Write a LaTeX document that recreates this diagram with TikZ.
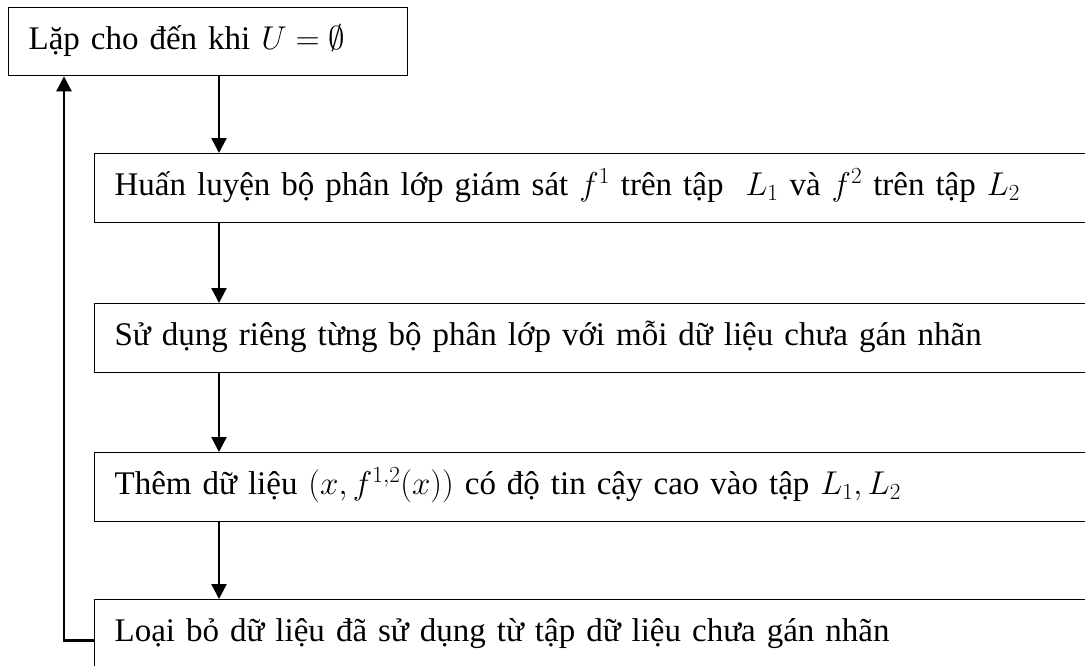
\RequirePackage{fix-cm}
\documentclass[tikz,border=0pt]{standalone}
\usepackage{fontspec}
\setmainfont{Liberation Serif}
\usetikzlibrary{arrows.meta}
\begin{document}
\begin{tikzpicture}[x=1pt,y=-1pt,
  box/.style={draw, line width=1.3pt, minimum height=69pt, inner xsep=20pt, inner ysep=0pt,
    align=left, anchor=north west, text height=25pt, text depth=10pt,
    font=\fontsize{33}{40}\selectfont},
  arr/.style={line width=2.4pt, -{Triangle[width=15pt,length=15pt]}}]
\useasboundingbox (0,0) rectangle (1085,665);
\clip (0,0) rectangle (1085,665);
\node[box, text width=359pt, minimum height=68pt] (b1) at (8,7) {Lặp cho đến khi $U=\emptyset$};
\node[box, text width=1060pt] (b2) at (94,153) {Huấn luyện bộ phân lớp giám sát $f^1$ trên tập~ $L_1$ và $f^2$ trên tập $L_2$};
\node[box, text width=1060pt] (b3) at (94,303) {Sử dụng riêng từng bộ phân lớp với mỗi dữ liệu chưa gán nhãn};
\node[box, text width=1060pt] (b4) at (94,452) {Thêm dữ liệu $(x, f^{1,2}(x))$ có độ tin cậy cao vào tập $L_1, L_2$};
\node[box, text width=1060pt] (b5) at (94,599) {Loại bỏ dữ liệu đã sử dụng từ tập dữ liệu chưa gán nhãn};
\coordinate (ax) at (219,0);
\coordinate (lx) at (64,0);
\draw[arr] (ax |- b1.south) -- (ax |- b2.north);
\draw[arr] (ax |- b2.south) -- (ax |- b3.north);
\draw[arr] (ax |- b3.south) -- (ax |- b4.north);
\draw[arr] (ax |- b4.south) -- (ax |- b5.north);
\draw[arr] ([yshift=-6.5pt]b5.west) -| (lx |- b1.south);
\end{tikzpicture}
\end{document}
